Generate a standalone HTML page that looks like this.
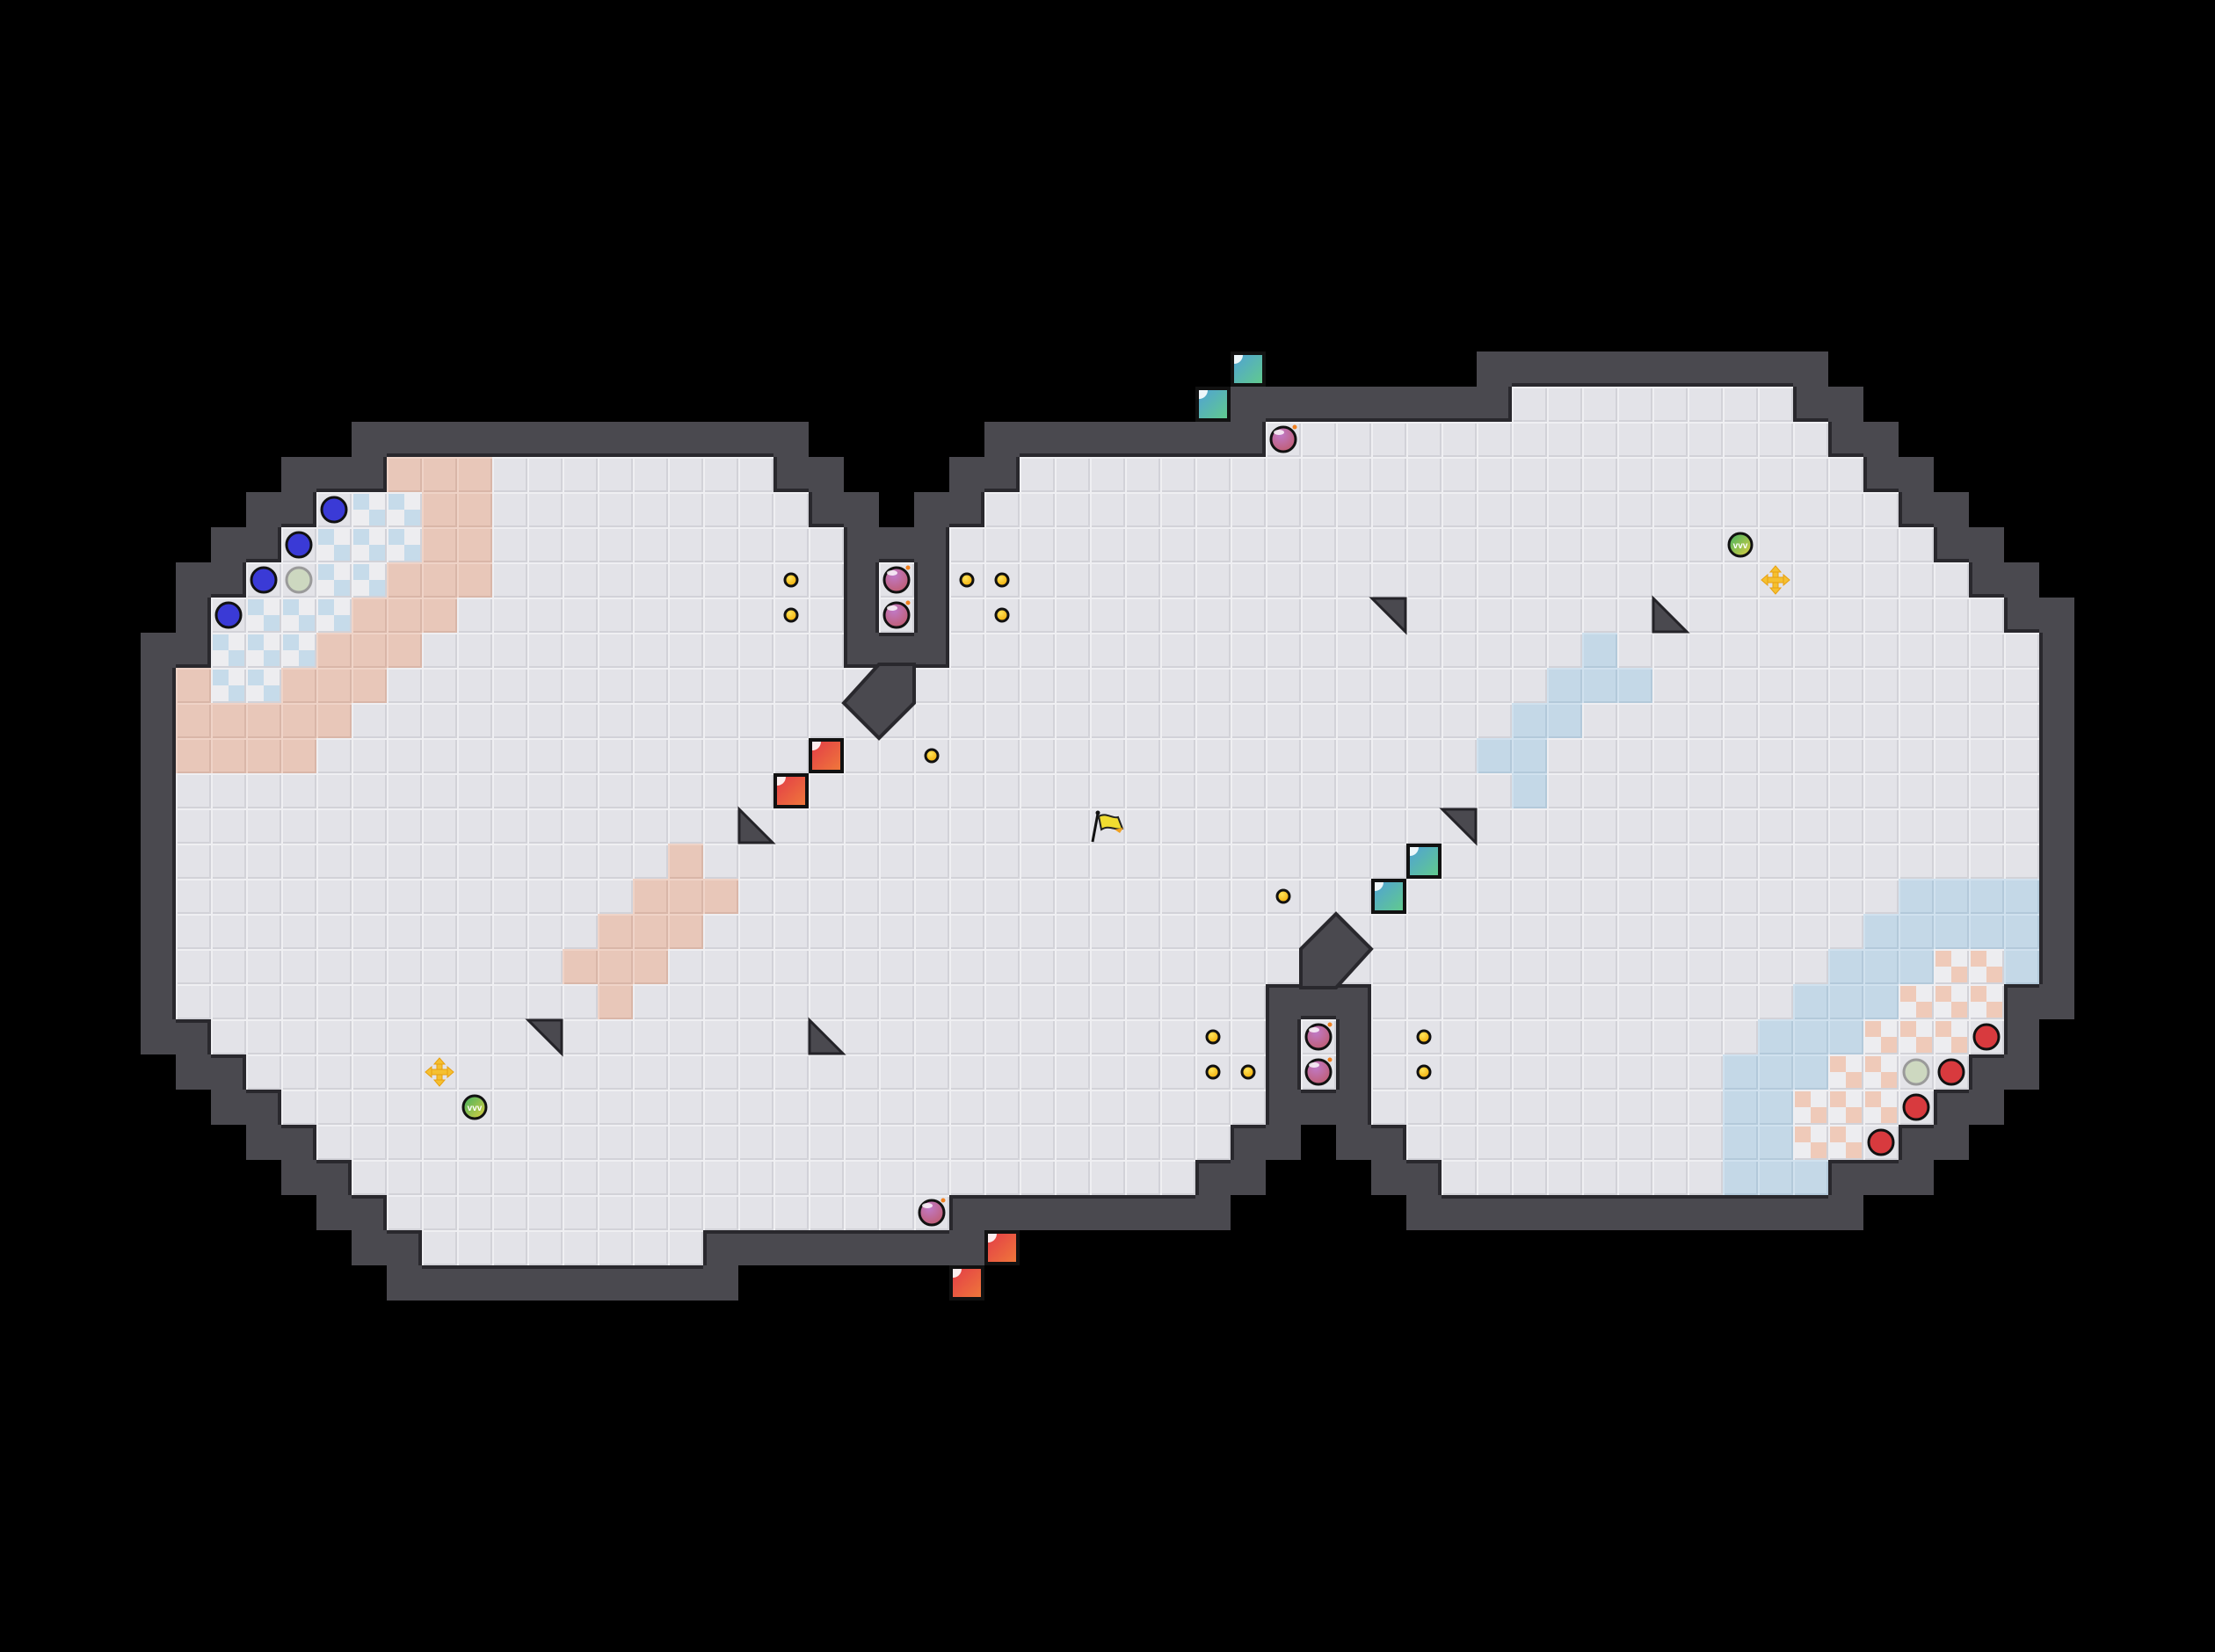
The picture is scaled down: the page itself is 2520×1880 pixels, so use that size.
<!DOCTYPE html>
<html><head><meta charset="utf-8">
<style>
html,body{margin:0;padding:0;background:#000;}
#m{position:relative;width:2520px;height:1880px;overflow:hidden;background:#000;}
.c{position:absolute;width:40px;height:40px;box-sizing:border-box;}
.f{background:#e3e3e8;box-shadow:inset 2px 2px 0 #efeff2,inset -2px -2px 0 #d2d2d8;}
.w{background:#4a494f;}
.pk{background:#e8c7b9;box-shadow:inset 2px 2px 0 #efd3c7,inset -2px -2px 0 #d9b6a8;}
.bl{background:#c4d8e7;box-shadow:inset 2px 2px 0 #d0e1ee,inset -2px -2px 0 #b3c9da;}
.cb{background:conic-gradient(#ededf0 0 25%,#c6dbea 0 50%,#ededf0 0 75%,#c6dbea 0);}
.cp{background:conic-gradient(#ededf0 0 25%,#efcab9 0 50%,#ededf0 0 75%,#efcab9 0);}
.dot{position:absolute;border-radius:50%;box-sizing:border-box;}
</style></head><body>
<div id="m"></div>
<svg id="s" width="2520" height="1880" style="position:absolute;left:0;top:0">
<defs>
<linearGradient id="gt" x1="0" y1="0" x2="1" y2="1"><stop offset="0" stop-color="#4fa0d8"/><stop offset="1" stop-color="#62cc8a"/></linearGradient>
<linearGradient id="gr" x1="0" y1="0" x2="1" y2="1"><stop offset="0" stop-color="#e23a48"/><stop offset="1" stop-color="#f07a3a"/></linearGradient>
<radialGradient id="gb" cx="0.4" cy="0.3" r="0.8"><stop offset="0" stop-color="#c07ac8"/><stop offset="1" stop-color="#c05a6a"/></radialGradient>
<radialGradient id="gc" cx="0.4" cy="0.35" r="0.7"><stop offset="0" stop-color="#ffe45a"/><stop offset="1" stop-color="#f0a800"/></radialGradient>
<linearGradient id="gg" x1="0" y1="0" x2="1" y2="1"><stop offset="0" stop-color="#3fb060"/><stop offset="1" stop-color="#e0d040"/></linearGradient>
</defs>
<g id="g"></g>
</svg>
<script>
var R={11:[[43,50]],12:[[36,51]],13:[[11,21],[29,52]],14:[[9,22],[28,53]],15:[[8,23],[27,54]],
16:[[7,23],[25,25],[27,55]],17:[[6,23],[25,25],[27,56]],18:[[6,23],[27,57]],
28:[[5,35],[39,56]],29:[[6,35],[37,37],[39,56]],30:[[7,35],[37,37],[39,55]],31:[[8,35],[39,54]],
32:[[9,34],[40,53]],33:[[10,33],[41,51]],34:[[11,26]],35:[[12,19]]};
for(var r=19;r<=27;r++)R[r]=[[5,57]];
var F={};
for(var k in R)R[k].forEach(function(a){for(var c=a[0];c<=a[1];c++)F[c+','+k]=1;});
function isF(c,r){return !!F[c+','+r];}
var T={};
function set(r,a,b,cl){for(var c=a;c<=b;c++)T[c+','+r]=cl;}
// left
set(13,11,13,'pk');set(14,10,11,'cb');set(14,12,13,'pk');set(15,9,11,'cb');set(15,12,13,'pk');
set(16,9,10,'cb');set(16,11,13,'pk');set(17,7,9,'cb');set(17,10,12,'pk');set(18,6,8,'cb');set(18,9,11,'pk');
set(19,5,5,'pk');set(19,6,7,'cb');set(19,8,10,'pk');set(20,5,9,'pk');set(21,5,8,'pk');
set(24,19,19,'pk');set(25,18,20,'pk');set(26,17,19,'pk');set(27,16,18,'pk');set(28,17,17,'pk');
// right mid
set(18,45,45,'bl');set(19,44,46,'bl');set(20,43,44,'bl');set(21,42,43,'bl');set(22,43,43,'bl');
// right bottom
set(25,54,57,'bl');set(26,53,57,'bl');set(27,52,54,'bl');set(27,55,56,'cp');set(27,57,57,'bl');
set(28,51,53,'bl');set(28,54,56,'cp');set(29,50,52,'bl');set(29,53,55,'cp');
set(30,49,51,'bl');set(30,52,53,'cp');set(31,49,50,'bl');set(31,51,53,'cp');
set(32,49,50,'bl');set(32,51,52,'cp');set(33,49,51,'bl');
var m=document.getElementById('m'),h='';
for(var r=9;r<=37;r++)for(var c=3;c<=60;c++){
 var x=c*40,y=r*40;
 if(isF(c,r)){h+='<div class="c f '+(T[c+','+r]||'')+'" style="left:'+x+'px;top:'+y+'px"></div>';}
 else{var adj=false;for(var dy=-1;dy<=1;dy++)for(var dx=-1;dx<=1;dx++)if(isF(c+dx,r+dy))adj=true;
  if(adj){var s='';
   s+=isF(c,r-1)?'border-bottom:4px solid #29282d;':'';
   s+=isF(c,r+1)?'border-bottom:4px solid #29282d;':'';
   s+=isF(c-1,r)?'border-left:4px solid #29282d;':'';
   s+=isF(c+1,r)?'border-right:4px solid #29282d;':'';
   s=s.replace(/border-bottom(.*?)border-bottom/,'border-top$1border-bottom');
   var b='';
   if(isF(c,r+1))b+='border-bottom:4px solid #29282d;';
   if(isF(c,r-1))b+='border-top:4px solid #29282d;';
   if(isF(c-1,r))b+='border-left:4px solid #29282d;';
   if(isF(c+1,r))b+='border-right:4px solid #29282d;';
   h+='<div class="c w" style="left:'+x+'px;top:'+y+'px;'+b+'"></div>';}
 }
}
m.innerHTML=h;
var g='';
function C(c){return c*40+20;}
function poly(p){g+='<polygon points="'+p+'" fill="#4a494f" stroke="#29282d" stroke-width="4" stroke-linejoin="miter"/>';}
poly('1000,756 1040,756 1040,800 1000,840 960,800');
poly('1480,1124 1480,1080 1520,1040 1560,1080 1520,1124');
function tri(c,r,t){var x=c*40,y=r*40,p;
 if(t=='bl')p=[x+1,y+1,x+1,y+39,x+39,y+39];else p=[x+1,y+1,x+39,y+1,x+39,y+39];
 g+='<polygon points="'+p.join(',')+'" fill="#4a494f" stroke="#242328" stroke-width="3"/>';}
tri(21,23,'bl');tri(23,29,'bl');tri(47,17,'bl');tri(39,17,'tr');tri(41,23,'tr');tri(15,29,'tr');
function sq(c,r,id){var x=c*40+2,y=r*40+2;
 g+='<rect x="'+x+'" y="'+y+'" width="36" height="36" fill="url(#'+id+')" stroke="#111" stroke-width="4"/>';
 g+='<path d="M'+(x+2)+' '+(y+2)+'h10a10 10 0 0 1 -10 10z" fill="#fff" opacity="0.9"/>';}
sq(23,21,'gr');sq(22,22,'gr');sq(28,35,'gr');sq(27,36,'gr');
sq(35,10,'gt');sq(34,11,'gt');sq(40,24,'gt');sq(39,25,'gt');
[[22,16],[22,17],[27,16],[28,16],[28,17],[26,21],[36,25],[34,29],[34,30],[35,30],[40,29],[40,30]].forEach(function(a){
 g+='<circle cx="'+C(a[0])+'" cy="'+C(a[1])+'" r="7" fill="url(#gc)" stroke="#111" stroke-width="3"/>';});
[[25,16],[25,17],[36,12],[26,34],[37,29],[37,30]].forEach(function(a){var x=C(a[0]),y=C(a[1]);
 g+='<circle cx="'+x+'" cy="'+y+'" r="14" fill="url(#gb)" stroke="#111" stroke-width="3"/>';
 g+='<ellipse cx="'+(x-5)+'" cy="'+(y-8)+'" rx="6" ry="3" fill="#fff" opacity="0.8"/>';
 g+='<circle cx="'+(x+13)+'" cy="'+(y-14)+'" r="2.5" fill="#f08020"/>';});
function ball(c,r,fill,st){g+='<circle cx="'+C(c)+'" cy="'+C(r)+'" r="14" fill="'+fill+'" stroke="'+st+'" stroke-width="3"/>';}
ball(9,14,'#3a3ad6','#111');ball(8,15,'#3a3ad6','#111');ball(7,16,'#3a3ad6','#111');ball(6,17,'#3a3ad6','#111');ball(8,16,'#cdd8c0','#9a9a9a');
ball(56,29,'#d83a3e','#111');ball(55,30,'#d83a3e','#111');ball(54,31,'#d83a3e','#111');ball(53,32,'#d83a3e','#111');ball(54,30,'#cdd8c0','#9a9a9a');
function gball(c,r){var x=C(c),y=C(r);g+='<circle cx="'+x+'" cy="'+y+'" r="13" fill="url(#gg)" stroke="#111" stroke-width="3"/>';
 g+='<text x="'+x+'" y="'+(y+4)+'" font-family="Liberation Sans,sans-serif" font-size="10" font-weight="bold" fill="#fff" text-anchor="middle">vvv</text>';}
gball(49,15);gball(13,31);
function cross(c,r){var x=C(c),y=C(r);
 g+='<g fill="#f5c030" stroke="#e8a010" stroke-width="1"><rect x="'+(x-3)+'" y="'+(y-12)+'" width="6" height="24"/><rect x="'+(x-12)+'" y="'+(y-3)+'" width="24" height="6"/>'+
 '<polygon points="'+x+','+(y-16)+' '+(x-6)+','+(y-9)+' '+(x+6)+','+(y-9)+'"/><polygon points="'+x+','+(y+16)+' '+(x-6)+','+(y+9)+' '+(x+6)+','+(y+9)+'"/>'+
 '<polygon points="'+(x-16)+','+y+' '+(x-9)+','+(y-6)+' '+(x-9)+','+(y+6)+'"/><polygon points="'+(x+16)+','+y+' '+(x+9)+','+(y-6)+' '+(x+9)+','+(y+6)+'"/></g>';}
cross(50,16);cross(12,30);
g+='<line x1="1243" y1="958" x2="1249" y2="926" stroke="#111" stroke-width="3"/><circle cx="1249" cy="925" r="2.5" fill="#111"/>';
g+='<path d="M1250 929 C1258 924 1266 932 1272 930 L1277 943 C1270 946 1262 938 1253 944 Z" fill="#f0dc30" stroke="#222" stroke-width="2"/>';
g+='<path d="M1268 944 L1278 942 L1274 948 Z" fill="#f0a020"/>';
document.getElementById('g').innerHTML=g;
</script>
</body></html>
